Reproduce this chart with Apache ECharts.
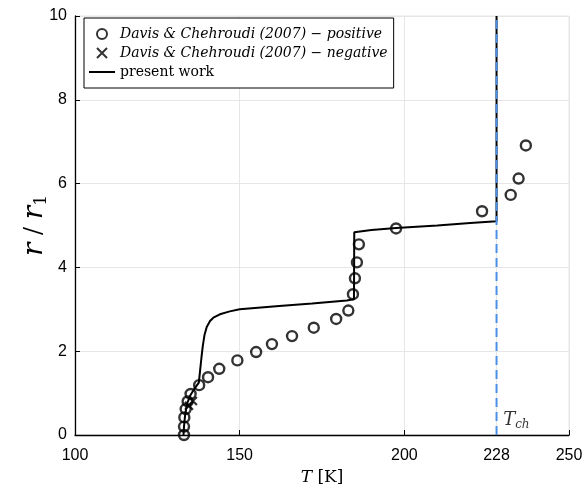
<!DOCTYPE html>
<html><head><meta charset="utf-8">
<script src="https://cdn.jsdelivr.net/npm/echarts@6/dist/echarts.min.js"></script>
<style>html,body{margin:0;padding:0;background:#fff}#c{width:587px;height:491px}</style>
</head><body><div id="c"></div>
<script>
// Davis & Chehroudi (2007) - positive (T [K], r/r1)
const posT = [133.1,133.1,133.2,133.6,134.2,135.1,137.7,140.4,143.8,149.3,155.0,159.8,165.9,172.5,179.3,183.0,184.4,185.0,185.6,186.2,197.5,223.6,232.3,234.7,236.9];
const posR = [0.00,0.20,0.42,0.62,0.80,0.98,1.19,1.38,1.58,1.78,1.98,2.17,2.36,2.56,2.77,2.97,3.36,3.74,4.12,4.55,4.93,5.34,5.73,6.12,6.91];
// Davis & Chehroudi (2007) - negative
const negT = [134.6,135.8];
const negR = [0.70,0.81];
// present work
const lineT = [132.95,133.1,133.4,134.0,134.9,136.4,137.6,138.0,138.4,138.8,139.3,140.0,141.0,142.0,144.0,147.0,150.0,162.0,172.0,182.5,184.7,184.8,190.0,197.5,210.0,220.0,228.0,228.0];
const lineR = [0.00,0.20,0.45,0.74,0.93,1.12,1.25,1.55,1.85,2.12,2.38,2.58,2.72,2.80,2.88,2.95,3.00,3.08,3.14,3.21,3.24,4.84,4.89,4.94,5.00,5.06,5.10,10.0];
// critical temperature
const Tch = 228;
const xTicks = [100,150,200,228,250];

const zip = (a,b) => a.map((v,i)=>[v,b[i]]);
const chart = echarts.init(document.getElementById('c'), null, {renderer:'canvas'});
const serif = '"DejaVu Serif", "Liberation Serif", serif';
const sans = '"Liberation Sans", Arial, sans-serif';
chart.setOption({
  animation:false,
  backgroundColor:'#fff',
  grid:{left:75,right:18,top:16,bottom:54,show:true,borderColor:'#e6e6e6',borderWidth:1},
  legend:{
    orient:'vertical', left:84, top:18, padding:[9,6,9,4], itemGap:5,
    backgroundColor:'#fff', borderColor:'#000', borderWidth:1, borderRadius:0,
    itemWidth:26, itemHeight:10,
    textStyle:{fontFamily:serif,fontSize:14,color:'#000'},
    data:[
      {name:'Davis & Chehroudi (2007) − positive', textStyle:{fontStyle:'italic'}},
      {name:'Davis & Chehroudi (2007) − negative', textStyle:{fontStyle:'italic'}},
      {name:'present work', itemStyle:{opacity:0}}
    ]
  },
  xAxis:{type:'value',min:100,max:250,
    name:'{i|T} [K]', nameLocation:'middle', nameGap:34,
    nameTextStyle:{fontFamily:serif,fontSize:17,color:'#000',rich:{i:{fontFamily:serif,fontStyle:'italic',fontSize:17}}},
    axisLine:{lineStyle:{color:'#000',width:1.3}},
    axisTick:{inside:true,length:5,customValues:xTicks,lineStyle:{color:'#000'}},
    axisLabel:{customValues:xTicks,fontFamily:sans,fontSize:16,color:'#000',margin:13},
    splitLine:{show:true,lineStyle:{color:'#e6e6e6',width:1}}
  },
  yAxis:{type:'value',min:0,max:10,interval:2,
    name:'{i|r}{n| / }{i|r}{s|1}', nameLocation:'middle', nameGap:25, nameRotate:90, nameMoveOverlap:false,
    nameTextStyle:{fontFamily:serif,fontSize:28,color:'#000',
      rich:{i:{fontFamily:serif,fontStyle:'italic',fontSize:28},n:{fontFamily:serif,fontSize:24},s:{fontFamily:serif,fontSize:17,verticalAlign:'bottom',padding:[13,0,0,0]}}},
    axisLine:{lineStyle:{color:'#000',width:1.3}},
    axisTick:{inside:true,length:5,lineStyle:{color:'#000'}},
    axisLabel:{fontFamily:sans,fontSize:16,color:'#000',margin:8},
    splitLine:{show:true,lineStyle:{color:'#e6e6e6',width:1}}
  },
  series:[
    {name:'present work',type:'line',data:zip(lineT,lineR),showSymbol:false,symbol:'none',
      lineStyle:{color:'#000',width:2},itemStyle:{color:'#000'},z:3},
    {name:'Tch',type:'line',data:[[Tch,0],[Tch,10]],showSymbol:false,symbol:'none',
      lineStyle:{color:'#4a90e8',width:2,type:[9,5]},z:4},
    {name:'Davis & Chehroudi (2007) − positive',type:'scatter',data:zip(posT,posR),symbol:'circle',symbolSize:10,
      itemStyle:{color:'rgba(0,0,0,0)',borderColor:'#000',borderWidth:2.4},z:5},
    {name:'Davis & Chehroudi (2007) − negative',type:'scatter',data:zip(negT,negR),symbol:'path://M0,0L10,10M10,0L0,10',symbolSize:8,
      itemStyle:{color:'rgba(0,0,0,0)',borderColor:'#000',borderWidth:2.2},z:5},
    {name:'label',type:'scatter',data:[[Tch+2,0.35]],symbolSize:0,silent:true,
      label:{show:true,position:'right',distance:0,formatter:'{i|T}{s|ch}',
        rich:{i:{fontFamily:serif,fontStyle:'italic',fontSize:18,color:'#000'},s:{fontFamily:serif,fontStyle:'italic',fontSize:12,color:'#000',verticalAlign:'bottom',padding:[9,0,0,0]}}}}
  ]
});
</script></body></html>
